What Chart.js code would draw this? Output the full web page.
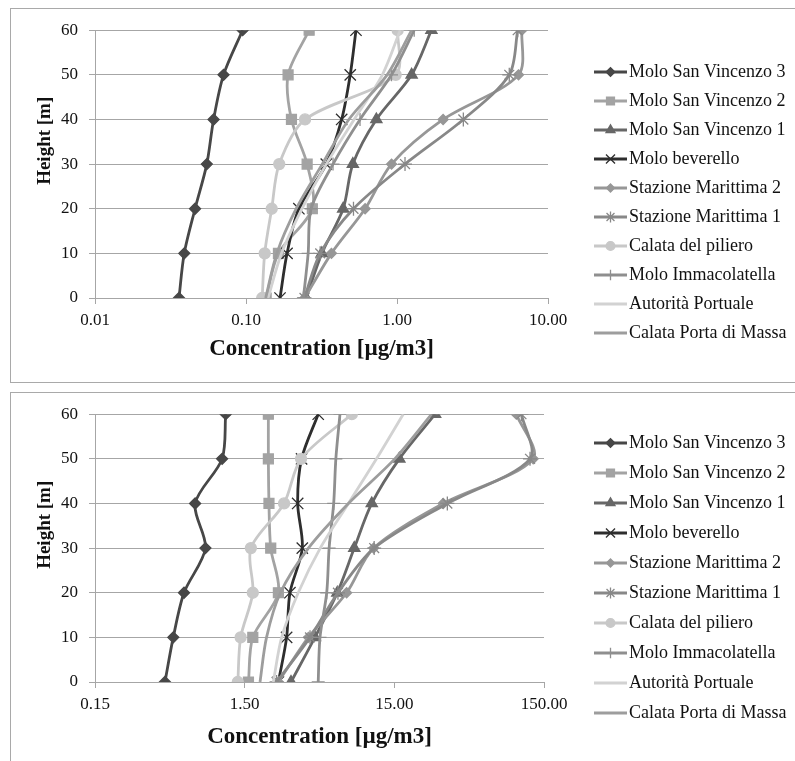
<!DOCTYPE html>
<html>
<head>
<meta charset="utf-8">
<script src="https://cdn.jsdelivr.net/npm/chart.js@4.4.1/dist/chart.umd.min.js"></script>
<style>
  body { margin: 0; background: #fff; overflow: hidden; }
  .panel { position: absolute; left: 10px; width: 830px; border: 1px solid #a9a9a9; background: #fff; }
  #panelTop { top: 8px; height: 373px; }
  #panelBottom { top: 392px; height: 420px; }
  .box { position: absolute; left: 0; top: 0; width: 784px; }
  #boxTop { height: 372px; }
  #boxBottom { height: 368px; }
</style>
</head>
<body>
<div class="panel" id="panelTop"><div class="box" id="boxTop"><canvas id="chartTop"></canvas></div></div>
<div class="panel" id="panelBottom"><div class="box" id="boxBottom"><canvas id="chartBottom"></canvas></div></div>
<script>
// heights of the measuring levels
const heights = [0, 10, 20, 30, 40, 50, 60];

const stations = [
  'Molo San Vincenzo 3', 'Molo San Vincenzo 2', 'Molo San Vincenzo 1', 'Molo beverello',
  'Stazione Marittima 2', 'Stazione Marittima 1', 'Calata del piliero', 'Molo Immacolatella',
  'Autorità Portuale', 'Calata Porta di Massa'
];

// upper chart, concentration per height
const upMsv3 = [0.036, 0.039, 0.046, 0.055, 0.061, 0.071, 0.095];
const upMsv2 = [0.136, 0.164, 0.275, 0.254, 0.200, 0.190, 0.262];
const upMsv1 = [0.250, 0.318, 0.440, 0.510, 0.730, 1.25, 1.69];
const upBeverello = [0.168, 0.187, 0.224, 0.340, 0.430, 0.490, 0.535];
const upStazMar2 = [0.245, 0.368, 0.615, 0.920, 2.02, 6.38, 6.71];
const upStazMar1 = [0.244, 0.310, 0.515, 1.13, 2.75, 5.54, 6.30];
const upPiliero = [0.128, 0.133, 0.148, 0.166, 0.246, 0.98, 1.01];
const upImmacolatella = [0.240, 0.258, 0.270, 0.377, 0.569, 0.92, 1.30];
const upAutorita = [0.140, 0.172, 0.235, 0.340, 0.520, 0.80, 1.05];
const upPortaMassa = [0.135, 0.160, 0.215, 0.320, 0.480, 0.86, 1.25];
const upperTicks = [0.01, 0.1, 1, 10];
const upperTickLabels = ['0.01', '0.10', '1.00', '10.00'];

// lower chart
const lowMsv3 = [0.44, 0.50, 0.59, 0.82, 0.70, 1.06, 1.12];
const lowMsv2 = [1.59, 1.70, 2.52, 2.24, 2.18, 2.16, 2.16];
const lowMsv1 = [3.06, 4.42, 6.24, 8.1, 10.6, 16.2, 28.1];
const lowBeverello = [2.52, 2.86, 3.01, 3.64, 3.39, 3.60, 4.65];
const lowStazMar2 = [2.52, 4.0, 7.2, 10.9, 31.8, 127, 98];
const lowStazMar1 = [2.45, 4.1, 6.3, 11.0, 33.9, 121, 106];
const lowPiliero = [1.35, 1.41, 1.70, 1.65, 2.75, 3.57, 7.8];
const lowImmacolatella = [4.65, 4.78, 5.3, 5.5, 5.9, 6.1, 6.5];
const lowAutorita = [2.33, 2.65, 3.42, 4.8, 7.4, 11.4, 17.2];
const lowPortaMassa = [1.90, 2.10, 2.60, 4.0, 7.4, 15.1, 26.6];
const lowerTicks = [0.15, 1.5, 15, 150];
const lowerTickLabels = ['0.15', '1.50', '15.00', '150.00'];

const upperSeries = [upMsv3, upMsv2, upMsv1, upBeverello, upStazMar2, upStazMar1, upPiliero, upImmacolatella, upAutorita, upPortaMassa];
const lowerSeries = [lowMsv3, lowMsv2, lowMsv1, lowBeverello, lowStazMar2, lowStazMar1, lowPiliero, lowImmacolatella, lowAutorita, lowPortaMassa];

// styles
const lineColors = ['#474747', '#a3a3a3', '#676767', '#2e2e2e', '#979797', '#888888', '#c8c8c8', '#8f8f8f', '#d2d2d2', '#9d9d9d'];
const markerStyles = ['rectRot', 'rect', 'triangle', 'crossRot', 'rectRot', 'star', 'circle', 'cross', 'circle', 'circle'];
const markerSizes = [5.5, 7, 6.5, 8, 5, 7, 5.5, 6.5, 0, 0];

const serif = '"Liberation Serif", "Times New Roman", serif';
const gridGray = '#a6a6a6';

// legend on the right + rotated y title, drawn like the spreadsheet one
const panelLegend = {
  id: 'panelLegend',
  afterDraw(chart, args, opts) {
    const ctx = chart.ctx;
    ctx.save();
    chart.data.datasets.forEach((ds, i) => {
      const y = opts.top + i * opts.step;
      ctx.strokeStyle = ds.borderColor;
      ctx.lineWidth = ds.borderWidth;
      ctx.beginPath();
      ctx.moveTo(opts.left, y);
      ctx.lineTo(opts.left + opts.lineLen, y);
      ctx.stroke();
      if (ds.pointRadius > 0 && Chart.helpers && Chart.helpers.drawPoint) {
        ctx.fillStyle = ds.pointBackgroundColor;
        ctx.strokeStyle = ds.pointBorderColor;
        ctx.lineWidth = ds.pointBorderWidth;
        Chart.helpers.drawPoint(ctx, {
          pointStyle: ds.pointStyle, radius: ds.pointRadius * 0.8,
          rotation: 0, borderWidth: ds.pointBorderWidth
        }, opts.left + opts.lineLen / 2, y);
      }
      ctx.fillStyle = '#111';
      ctx.font = '18px ' + serif;
      ctx.textAlign = 'left';
      ctx.textBaseline = 'middle';
      ctx.fillText(ds.label, opts.left + opts.lineLen + opts.gap, y);
    });
    const a = chart.chartArea;
    ctx.translate(opts.titleX, a.top + (a.bottom - a.top) * opts.titleFrac);
    ctx.rotate(-Math.PI / 2);
    ctx.font = 'bold 19px ' + serif;
    ctx.textAlign = 'center';
    ctx.textBaseline = 'middle';
    ctx.fillStyle = '#111';
    ctx.fillText('Height [m]', 0, 0);
    ctx.restore();
  }
};

function makePanel(canvasId, series, ticks, tickLabels, lay) {
  const datasets = series.map((vals, i) => ({
    label: stations[i],
    data: vals.map((v, k) => ({ x: v, y: heights[k] })),
    showLine: true,
    borderColor: lineColors[i],
    backgroundColor: lineColors[i],
    borderWidth: 2.8,
    tension: 0.3,
    pointStyle: markerStyles[i],
    pointRadius: markerSizes[i],
    pointHoverRadius: markerSizes[i],
    pointBackgroundColor: lineColors[i],
    pointBorderColor: lineColors[i],
    pointBorderWidth: 1.3,
    order: series.length - i
  }));

  return new Chart(document.getElementById(canvasId), {
    type: 'scatter',
    data: { datasets },
    options: {
      responsive: true,
      maintainAspectRatio: false,
      animation: false,
      layout: { padding: { left: 0, top: 18, right: lay.right, bottom: lay.bottom } },
      plugins: {
        legend: { display: false },
        tooltip: { enabled: false },
        panelLegend: { left: 583, lineLen: 33, gap: 2, top: lay.legendTop, step: lay.legendStep, titleX: 34, titleFrac: 0.413 }
      },
      scales: {
        x: {
          type: 'logarithmic',
          min: ticks[0],
          max: ticks[ticks.length - 1],
          afterBuildTicks: (axis) => { axis.ticks = ticks.map(v => ({ value: v })); },
          afterFit: (axis) => { axis.height = lay.xHeight; },
          border: { display: true, color: gridGray, width: 1 },
          grid: { display: true, drawOnChartArea: false, drawTicks: true, tickLength: 6, color: gridGray },
          ticks: {
            autoSkip: false, maxRotation: 0, padding: 6, color: '#111',
            font: { family: serif, size: 17 },
            callback: (v, idx) => tickLabels[idx]
          },
          title: {
            display: true, text: 'Concentration [µg/m3]', color: '#111', padding: 0,
            font: { family: serif, size: 23, weight: 'bold' }
          }
        },
        y: {
          type: 'linear',
          min: 0,
          max: 60,
          afterFit: (axis) => { axis.width = 84; },
          border: { display: true, color: gridGray, width: 1 },
          grid: { color: gridGray, lineWidth: 1, tickLength: 6 },
          ticks: { stepSize: 10, padding: 11, color: '#111', font: { family: serif, size: 17 } }
        }
      }
    },
    plugins: [panelLegend]
  });
}

makePanel('chartTop', upperSeries, upperTicks, upperTickLabels,
  { right: 247, bottom: 18, xHeight: 65, legendTop: 63, legendStep: 29 });
makePanel('chartBottom', lowerSeries, lowerTicks, lowerTickLabels,
  { right: 251, bottom: 10, xHeight: 69, legendTop: 50, legendStep: 30 });
</script>
</body>
</html>
